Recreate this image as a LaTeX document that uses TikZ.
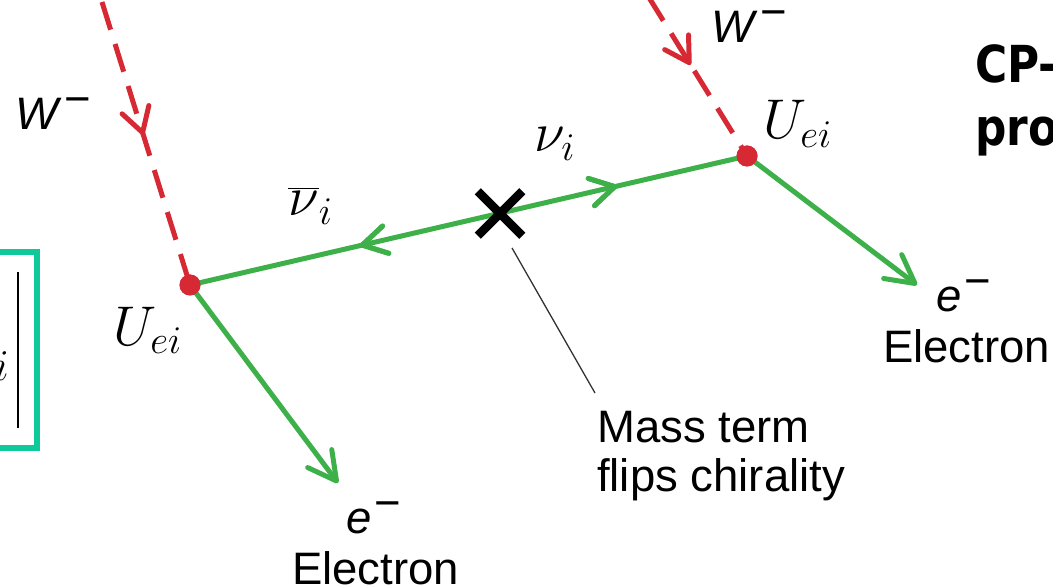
\RequirePackage{fix-cm}
\documentclass[tikz,border=0pt]{standalone}
\usepackage{exscale}
\usepackage{fontspec}
\newfontfamily\arial{Liberation Sans}
\newfontfamily\dejavu{DejaVu Sans}
\usetikzlibrary{arrows.meta,decorations.markings,shapes.misc}
\definecolor{fgreen}{RGB}{62,176,74}
\definecolor{wred}{RGB}{214,41,52}
\definecolor{boxteal}{RGB}{16,201,154}
\newcommand{\supminus}{\kern3pt\raisebox{15pt}{\textminus}}
\tikzset{
  fermion/.style={draw=fgreen,line width=5pt},
  wline/.style={draw=wred,line width=5pt,dash pattern=on 29pt off 15pt},
  vtx/.style={circle,fill=wred,minimum size=21pt,inner sep=0pt},
  sanslbl/.style={font=\arial\fontsize{45.5}{49}\selectfont,inner sep=0pt},
  mathlbl/.style={font=\fontsize{56}{60}\selectfont,inner sep=0pt},
  boldlbl/.style={font=\dejavu\bfseries\fontsize{51}{60}\selectfont,inner sep=0pt},
  endbarb/.style={-{Straight Barb[length=28pt,width=30pt,round]}},
  fwdmark/.style={postaction={decorate},decoration={markings,mark=at position #1 with {\arrow{Straight Barb[length=24pt,width=28pt,round]}}}},
  revmark/.style={postaction={decorate},decoration={markings,mark=at position #1 with {\arrowreversed{Straight Barb[length=24pt,width=28pt,round]}}}},
  xmark/.style={draw,cross out,line width=8.5pt,minimum size=36pt,inner sep=0pt},
  pointer/.style={draw=black!80,line width=1.3pt}
}
\begin{document}
\begin{tikzpicture}[x=1pt,y=-1pt]
\useasboundingbox (0,0) rectangle (1053,588);
\clip (0,0) rectangle (1053,588);

% partial box at the left edge
\node[draw=boxteal,line width=6pt,minimum width=66.5pt,minimum height=196pt,inner sep=0pt] (box) at (3.25,350) {};
\coordinate (barT) at (18,272);
\coordinate (barB) at (18,428);
\draw[line width=2pt] (barT) -- (barB);
\node[inner sep=0pt,font=\fontsize{44}{48}\selectfont,anchor=base west] (boxi) at (-6,381) {$i$};

% vertices
\node[vtx] (L) at (190,285) {};
\node[vtx] (R) at (747,156) {};
\coordinate (WLtop) at (102,2);
\coordinate (WRtop) at (648,-4);
\coordinate (eLend) at (338,483);
\coordinate (eRend) at (917,285);

% W lines
\draw[wline,fwdmark=0.47] (WLtop) -- (L.center);
\draw[wline,fwdmark=0.43] (WRtop) -- (R.center);

% electrons
\draw[fermion,endbarb] (L.center) -- (eLend);
\draw[fermion,endbarb] (R.center) -- (eRend);

% neutrino line
\draw[fermion,revmark=0.305,fwdmark=0.767] (L.center) -- (R.center);
\node[vtx] at (L) {};
\node[vtx] at (R) {};

% mass insertion
\node[xmark] (X) at (500,213.5) {};
\coordinate (p1) at (512,248);
\coordinate (p2) at (595,393);
\draw[pointer] (p1) -- (p2);

% labels
\node[sanslbl,anchor=base west] (WL) at (15,130) {\textit{W}\supminus};
\node[sanslbl,anchor=base west] (WR) at (711,43) {\textit{W}\supminus};
\node[mathlbl,anchor=base west] (UL) at (113,345) {$U_{ei}$};
\node[mathlbl,anchor=base west] (UR) at (763,139) {$U_{ei}$};
\node[mathlbl,anchor=base west] (nubar) at (288,216) {$\overline{\nu}_i$};
\node[mathlbl,anchor=base west] (nu) at (534,152) {$\nu_i$};
\node[sanslbl,anchor=base west] (eL) at (346,533) {\textit{e}\supminus};
\node[sanslbl,anchor=base west] (eLt) at (292,584) {Electron};
\node[sanslbl,anchor=base west] (eR) at (936,312) {\textit{e}\supminus};
\node[sanslbl,anchor=base west] (eRt) at (883,362) {Electron};
\node[sanslbl,anchor=base west,align=left] (mt) at (597,491) {Mass term\\flips chirality};

% cut-off title
\node[boldlbl,anchor=base west] (cp) at (975,83) {\scalebox{0.86}[1]{CP-}};
\node[boldlbl,anchor=base west] (pro) at (975,146) {\scalebox{0.86}[1]{pro}};
\end{tikzpicture}
\end{document}
